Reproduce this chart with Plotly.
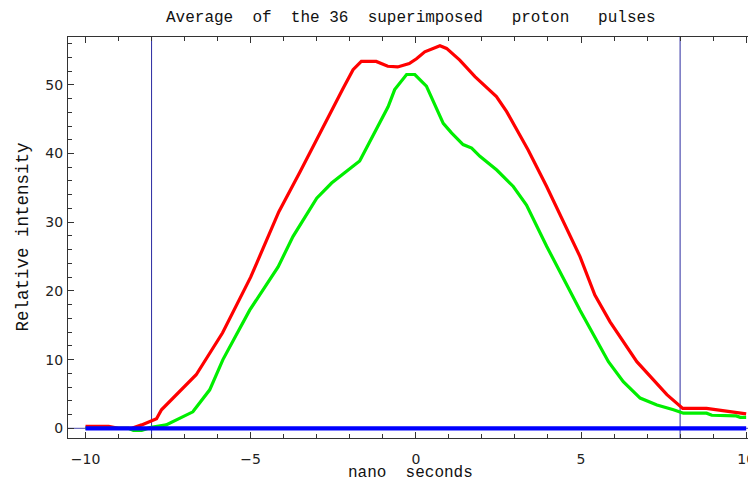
import plotly.graph_objects as go

# ---- data ----
red_x = [-10, -9.3, -9.0, -8.6, -8.3, -8.05, -7.85, -7.7, -6.65, -5.85, -5.0, -4.15,
         -3.5, -2.2, -1.9, -1.65, -1.2, -0.85, -0.55, -0.2, 0.02, 0.27, 0.73, 0.93,
         1.33, 1.79, 2.44, 2.75, 3.15, 3.4, 3.96, 4.97, 5.42, 5.88, 6.69, 7.6, 8.08,
         8.8, 10.0]
red_y = [0.3, 0.3, 0.0, 0.0, 0.5, 1.0, 1.4, 2.7, 7.8, 13.9, 22.0, 31.5,
         37.4, 49.5, 52.2, 53.4, 53.4, 52.7, 52.6, 53.1, 53.8, 54.8, 55.7, 55.3,
         53.6, 51.2, 48.3, 46.1, 42.7, 40.5, 35.2, 25.0, 19.4, 15.5, 9.7, 4.9, 2.9,
         2.9, 2.1]

green_x = [-10, -8.7, -8.55, -8.3, -8.05, -7.56, -6.75, -6.24, -5.84, -5.03, -4.17,
           -3.72, -3.0, -2.55, -1.7, -0.84, -0.64, -0.28, -0.03, 0.32, 0.83, 1.08,
           1.43, 1.69, 1.94, 2.45, 2.95, 3.35, 3.96, 4.97, 5.83, 6.28, 6.79, 7.3,
           7.8, 8.1, 8.8, 8.96, 9.7, 9.82, 10.0]
green_y = [0.0, 0.0, -0.3, -0.3, 0.1, 0.5, 2.4, 5.6, 10.0, 17.2, 23.5,
           27.9, 33.5, 35.7, 38.9, 46.8, 49.3, 51.5, 51.5, 49.8, 44.4, 43.0,
           41.3, 40.8, 39.6, 37.6, 35.2, 32.5, 26.5, 17.2, 9.7, 6.8, 4.4, 3.4,
           2.7, 2.2, 2.2, 1.9, 1.8, 1.6, 1.6]

baseline_x = [-10, 10]
baseline_y = [0, 0]

window_edges = [-8, 8]

x_range = [-10.53, 10.54]
y_range = [-1.41, 56.96]

title_text = "Average  of  the 36  superimposed   proton   pulses"
x_label = "nano  seconds"
y_label = "Relative intensity"

mono = "Courier New, Liberation Mono, monospace"
sans = "DejaVu Sans, Verdana, sans-serif"

# The page places the figure 8 px in from the top-left corner (body margin),
# so the plot area (viewport x 68..764, y 37..438) is set in figure pixels.
PL, PT, PW, PH = 68, 37, 696, 401

fig = go.Figure()
fig.add_trace(go.Scatter(x=red_x, y=red_y, mode="lines",
                         line=dict(color="#ff0000", width=3.2), showlegend=False))
fig.add_trace(go.Scatter(x=green_x, y=green_y, mode="lines",
                         line=dict(color="#00ee00", width=3.2), showlegend=False))
fig.add_trace(go.Scatter(x=baseline_x, y=baseline_y, mode="lines",
                         line=dict(color="#0000ff", width=4.2), showlegend=False))

for xe in window_edges:
    fig.add_shape(type="line", xref="x", yref="paper", x0=xe, x1=xe, y0=0, y1=1,
                  line=dict(color="#2a2aa0", width=1), layer="below")
fig.add_shape(type="line", xref="paper", yref="y", x0=0, x1=1, y0=0, y1=0,
              line=dict(color="#4a4ab0", width=1), layer="below")

def px(vx):
    return (vx - PL) / PW

def py(vy):
    return (PT + PH - vy) / PH

fig.add_annotation(text=title_text.replace(" ", "\u00a0"), xref="paper", yref="paper",
                   x=px(411), y=py(18), xanchor="center", yanchor="middle",
                   showarrow=False, font=dict(family=mono, size=16, color="#111"))
fig.add_annotation(text=x_label.replace(" ", "\u00a0"), xref="paper", yref="paper",
                   x=px(410), y=py(473), xanchor="center", yanchor="middle",
                   showarrow=False, font=dict(family=mono, size=16, color="#111"))
fig.add_annotation(text=y_label, xref="paper", yref="paper", textangle=-90,
                   x=px(22), y=py(237.5), xanchor="center", yanchor="middle",
                   showarrow=False, font=dict(family=mono, size=17.5, color="#111"))

fig.update_layout(
    width=756, height=482,
    margin=dict(l=PL - 8, r=0, t=PT - 8, b=482 - (PT + PH - 8), autoexpand=False),
    paper_bgcolor="white", plot_bgcolor="white",
)

fig.update_xaxes(
    range=x_range, showgrid=False, zeroline=False, automargin=False,
    showline=True, linecolor="#333", linewidth=1, mirror="ticks",
    ticks="inside", ticklen=6, tickcolor="#333", tickwidth=1,
    tick0=-10, dtick=5, ticklabelstandoff=8,
    minor=dict(ticks="inside", ticklen=4, dtick=1, tick0=-10, tickcolor="#333", showgrid=False),
    tickfont=dict(family=sans, size=14, color="#222"),
)
fig.update_yaxes(
    range=y_range, showgrid=False, zeroline=False, automargin=False,
    showline=True, linecolor="#333", linewidth=1, mirror=False,
    ticks="inside", ticklen=6, tickcolor="#333", tickwidth=1,
    tick0=0, dtick=10, ticklabelstandoff=1,
    minor=dict(ticks="inside", ticklen=4, dtick=2, tick0=0, tickcolor="#333", showgrid=False),
    tickfont=dict(family=sans, size=14, color="#222"),
)

fig.write_html("out.html")
